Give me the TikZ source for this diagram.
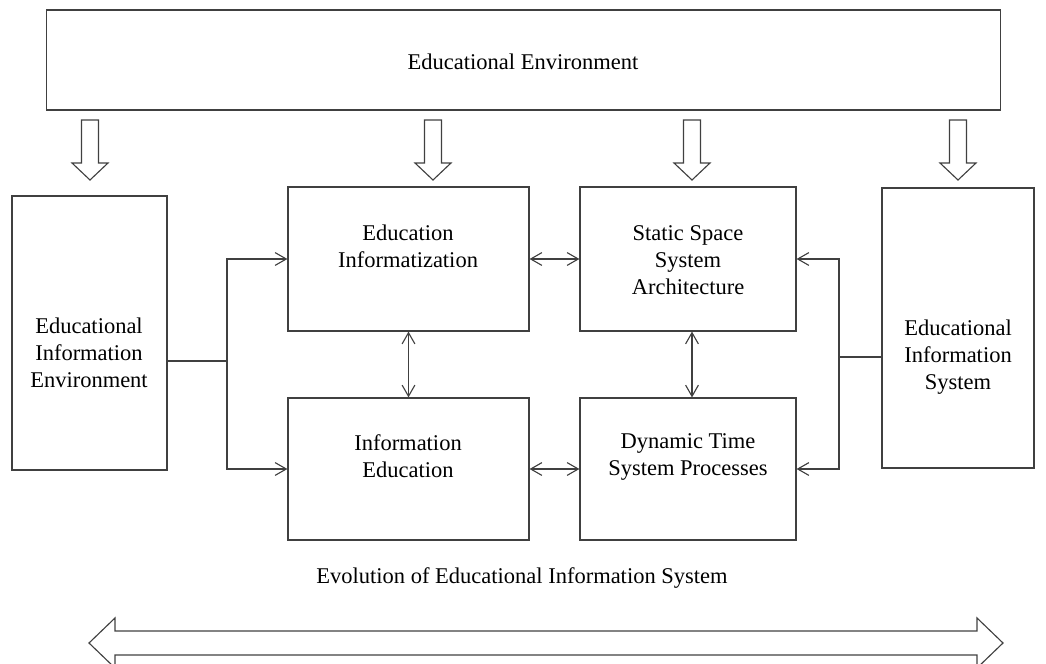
\documentclass[tikz,border=0pt]{standalone}
\usepackage{fontspec}
\setmainfont{Liberation Serif}
\usepackage{tikz}
\usetikzlibrary{positioning,arrows.meta}

\begin{document}
\begin{tikzpicture}[x=0.025cm, y=-0.025cm,
    line width=0.8pt, draw=black!75,
    box/.style={draw=black!75, line width=0.8pt, inner sep=0pt},
    txt/.style={align=center, font=\fontsize{16}{19}\selectfont},
    >={Straight Barb[length=2.8mm,width=3.2mm]}]

    \useasboundingbox (0,0) rectangle (1046,664);

    % boxes
    \node[box, minimum width=23.825cm, minimum height=2.5cm] (env) at (523.5,60) {};
    \node[box, minimum width=3.875cm, minimum height=6.85cm] (ienv) at (89.5,333) {};
    \node[box, minimum width=3.8cm, minimum height=7cm] (isys) at (958,328) {};
    \node[box, minimum width=6.025cm, minimum height=3.6cm] (infz) at (408.5,259) {};
    \node[box, minimum width=5.4cm, minimum height=3.6cm] (ssa) at (688,259) {};
    \node[box, minimum width=6.025cm, minimum height=3.55cm] (ied) at (408.5,469) {};
    \node[box, minimum width=5.4cm, minimum height=3.55cm] (dtp) at (688,469) {};

    % texts
    \node[txt] at (523,62) {Educational Environment};
    \node[txt] at (89,353) {Educational\\Information\\Environment};
    \node[txt] at (958,357) {Educational\\Information\\System};
    \node[txt] at (408,246) {Education\\Informatization};
    \node[txt] at (688,260) {Static Space\\System\\Architecture};
    \node[txt] at (408,456) {Information\\Education};
    \node[txt] at (688,457) {Dynamic Time\\System Processes};
    \node[txt] (evo) at (522,578) {Evolution of Educational Information System};

    % hollow arrows from the environment
    \foreach \x in {90,433,692,958}
        \draw (\x-8.5,120) -- (\x+8.5,120) -- (\x+8.5,163) -- (\x+18,163)
            -- (\x,180) -- (\x-18,163) -- (\x-8.5,163) -- cycle;

    % links
    \coordinate (lb) at (227,361);
    \coordinate (rb) at (839,357);
    \draw (ienv.east |- lb) -- (lb);
    \draw (isys.west |- rb) -- (rb);
    \draw[->] (lb) |- (infz.west);
    \draw[->] (lb) |- (ied.west);
    \draw[->] (rb) |- (ssa.east);
    \draw[->] (rb) |- (dtp.east);

    \path[<->]
        (infz) edge (ssa)
        (ied) edge (dtp)
        (infz) edge (ied)
        ([xshift=0.1cm]ssa.south) edge ([xshift=0.1cm]dtp.north);

    % evolution arrow
    \draw (89,643) -- (115,618) -- (115,631) -- (977,631) -- (977,618)
        -- (1003,643) -- (977,668) -- (977,655) -- (115,655) -- (115,668) -- cycle;
\end{tikzpicture}
\end{document}
